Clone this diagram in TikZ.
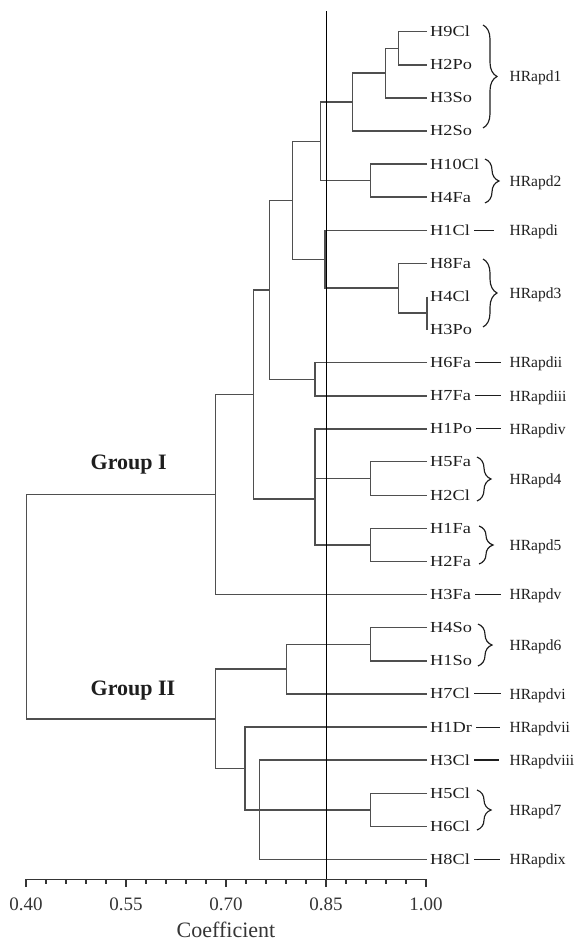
\documentclass[tikz,border=0pt]{standalone}
\usepackage{graphicx}
\usepackage{fontspec}
\setmainfont{Liberation Serif}
\usetikzlibrary{decorations.pathreplacing,calc}
\definecolor{treegray}{HTML}{4F4F4F}
\definecolor{ink}{HTML}{1E1E1E}
\begin{document}
\begin{tikzpicture}[x=1pt,y=-1pt,
  tree/.style={draw=treegray,line width=1.45pt},
  refline/.style={draw=black,line width=1.1pt},
  axisline/.style={draw=ink!90,line width=1.3pt},
  leaf/.style={anchor=base west,inner sep=0pt,text=ink,font=\fontsize{15.3}{15.3}\selectfont},
  hrlab/.style={anchor=base west,inner sep=0pt,text=ink,font=\fontsize{15.5}{15.5}\selectfont},
  grp/.style={anchor=base west,inner sep=0pt,text=ink,font=\fontsize{22}{22}\selectfont\bfseries},
  ticklab/.style={anchor=base,inner sep=0pt,text=ink!90,font=\fontsize{19}{19}\selectfont},
  hbrace/.style={draw=ink,line width=1.15pt,decorate,decoration={brace,amplitude=14pt}},
  dashline/.style={draw=ink,line width=1.1pt}
]
\useasboundingbox (0,0) rectangle (579,944);
% leaves
\foreach \nm/\yy [count=\i from 0] in {H9Cl/31.7,H2Po/64.8,H3So/97.9,H2So/131.0,H10Cl/164.1,H4Fa/197.2,H1Cl/230.3,H8Fa/263.4,H4Cl/296.5,H3Po/329.6,H6Fa/362.7,H7Fa/395.8,H1Po/428.9,H5Fa/461.5,H2Cl/495.6,H1Fa/528.6,H2Fa/561.5,H3Fa/594.4,H4So/627.7,H1So/660.8,H7Cl/693.9,H1Dr/727.2,H3Cl/760.0,H5Cl/793.6,H6Cl/826.4,H8Cl/859.4}{
  \coordinate (t\i) at (427,\yy);
  \node[leaf] (L\i) at (430,\yy+5) {\scalebox{1.2}[1]{\nm}};
}
% internal nodes
\coordinate (A) at (398.3,48.25);
\coordinate (B) at (385.3,73.1);
\coordinate (C) at (352.7,102.0);
\coordinate (D) at (370.7,180.65);
\coordinate (E) at (320.7,141.3);
\coordinate (F) at (427,313.05);
\coordinate (G) at (398.3,288.2);
\coordinate (H) at (325,259.3);
\coordinate (I) at (292.3,200.3);
\coordinate (J) at (315,379.25);
\coordinate (K) at (269.3,289.8);
\coordinate (Lc) at (370.7,478.55);
\coordinate (M) at (370.7,545.05);
\coordinate (N) at (315,499);
\coordinate (O) at (253.3,394.4);
\coordinate (P) at (215.7,494.4);
\coordinate (Q) at (370.7,644.25);
\coordinate (R) at (286.7,669.1);
\coordinate (T) at (370.7,810.0);
\coordinate (S) at (259.3,810.0);
\coordinate (U) at (245,768.6);
\coordinate (V) at (215.7,718.85);
\coordinate (W) at (26.7,600);
% tree
\draw[tree] (t0) -| (A) |- (t1);
\draw[tree] (A) -| (B) |- (t2);
\draw[tree] (B) -| (C) |- (t3);
\draw[tree] (t4) -| (D) |- (t5);
\draw[tree] (C) -| (E) |- (D);
\draw[tree] (t8) -- (t9);
\draw[tree] (t7) -| (G) |- (F);
\draw[tree] (t6) -| (H) |- (G);
\draw[tree] (E) -| (I) |- (H);
\draw[tree] (t10) -| (J) |- (t11);
\draw[tree] (I) -| (K) |- (J);
\draw[tree] (t13) -| (Lc) |- (t14);
\draw[tree] (t15) -| (M) |- (t16);
\draw[tree] (t12) -| (N) |- (M);
\draw[tree] (Lc) -- (Lc -| N);
\draw[tree] (K) -| (O) |- (N);
\draw[tree] (O) -| (P) |- (t17);
\draw[tree] (t18) -| (Q) |- (t19);
\draw[tree] (Q) -| (R) |- (t20);
\draw[tree] (t23) -| (T) |- (t24);
\draw[tree] (t22) -| (S) |- (t25);
\draw[tree] (T) -- (S);
\draw[tree] (t21) -| (U) |- (S);
\draw[tree] (R) -| (V) |- (U);
\draw[tree] (P) -| (W) |- (V);
% group labels
\node[grp] (g1) at (90.5,469) {Group I};
\node[grp] (g2) at (90.5,695) {Group II};
% braces and HRapd labels
\foreach \bx/\bt/\bb/\lab [count=\j] in {483/25/128/HRapd1,485/159/203/HRapd2,483/259/327/HRapd3,477/457/501/HRapd4,479/526/564/HRapd5,478/624/666/HRapd6,477/790/830/HRapd7}{
  \coordinate (bt\j) at (\bx,\bt);
  \coordinate (bb\j) at (\bx,\bb);
  \draw[hbrace] (bt\j) -- (bb\j);
  \node[hrlab] (hb\j) at (509.5,{(\bt+\bb)/2+5.2}) {\lab};
}
% single labels with dashes
\foreach \k/\lab/\gap in {6/HRapdi/16,10/HRapdii/8.5,11/HRapdiii/8.5,12/HRapdiv/8.5,17/HRapdv/8.5,20/HRapdvi/8.5,21/HRapdvii/9.5,22/HRapdviii/11,25/HRapdix/9.5}{
  \path (t\k) -- ++(0,5.2) coordinate (hp\k);
  \node[hrlab] (hs\k) at (509.5,0 |- hp\k) {\lab};
  \draw[dashline] ([xshift=4pt]L\k.base east |- t\k) -- ([xshift=-\gap pt]hs\k.base west |- t\k);
}
% reference line at 0.85
\coordinate (rtop) at (326.5,11.5);
\coordinate (rbot) at (326.5,879.3);
\draw[refline] (rtop) -- (rbot);
% axis
\coordinate (ax0) at (26,879.3);
\coordinate (ax1) at (426,879.3);
\draw[axisline] (ax0) -- (ax1);
\foreach \k in {0,...,20}{
  \pgfmathsetmacro{\tl}{mod(\k,5)==0 ? 7.5 : 4.8}
  \draw[axisline] ($(ax0)+(20*\k,0)$) -- ++(0,\tl);
}
\foreach \v [count=\m from 0] in {0.40,0.55,0.70,0.85,1.00}{
  \node[ticklab] (tl\m) at ($(ax0)+(100*\m,31.5)$) {\v};
}
\node[anchor=base,inner sep=0pt,text=ink!90,font=\fontsize{22}{22}\selectfont] (coef) at (226,937.5) {Coefficient};
\end{tikzpicture}
\end{document}
